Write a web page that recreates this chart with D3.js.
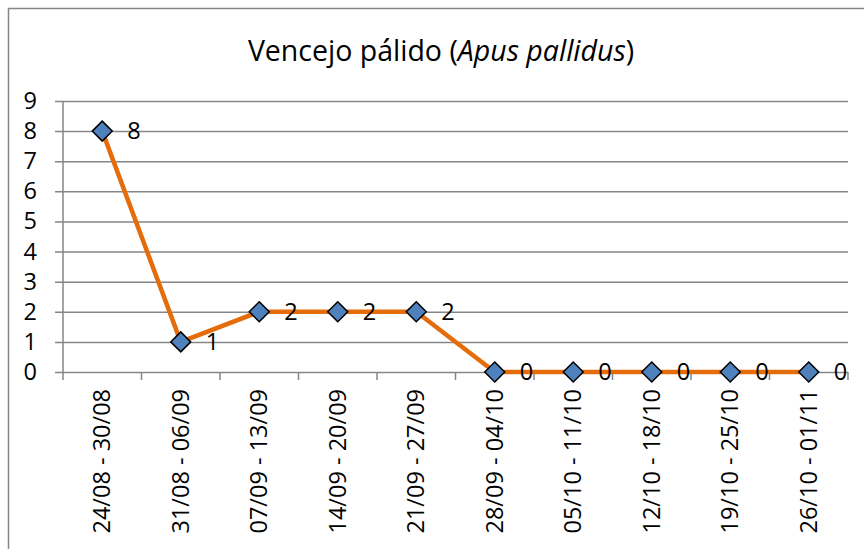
<!DOCTYPE html>
<html><head><meta charset="utf-8">
<script src="https://cdn.jsdelivr.net/npm/d3@7"></script>
<style>
body{margin:0;background:#fff;}
svg{display:block;font-family:"Open Sans",sans-serif;}
</style></head>
<body>
<svg id="c" width="864" height="549"></svg>
<script>
const categories = ["24/08 - 30/08","31/08 - 06/09","07/09 - 13/09","14/09 - 20/09","21/09 - 27/09","28/09 - 04/10","05/10 - 11/10","12/10 - 18/10","19/10 - 25/10","26/10 - 01/11"];
const values = [8,1,2,2,2,0,0,0,0,0];
const yTicks = [0,1,2,3,4,5,6,7,8,9];

const svg = d3.select("#c");
const L = 63, R = 848, T = 101, B = 372;
const gray = "#868686";
const fs = 23.5;

// outer border
svg.append("rect").attr("x",8.5).attr("y",8.5).attr("width",870).attr("height",560)
  .attr("fill","none").attr("stroke",gray).attr("stroke-width",1.5);

// title
const title = svg.append("text").attr("x",441).attr("y",61).attr("text-anchor","middle")
  .attr("font-size",28.5).attr("fill","#000");
title.append("tspan").text("Vencejo pálido (");
title.append("tspan").attr("font-style","italic").text("Apus pallidus");
title.append("tspan").text(")");

const x = d3.scaleBand().domain(categories).range([L,R]).paddingInner(0).paddingOuter(0);
const y = d3.scaleLinear().domain([0,9]).range([B,T]);

// gridlines + y ticks
const yAxis = d3.axisLeft(y).tickValues(yTicks).tickSize(R-L+8).tickSizeOuter(0).tickPadding(18);
const gy = svg.append("g").attr("transform",`translate(${R},0)`).call(yAxis);
gy.select(".domain").remove();
gy.selectAll(".tick line").attr("stroke",gray).attr("stroke-width",1.5);
gy.selectAll(".tick text").attr("font-size",fs).attr("fill","#000").attr("font-family","Open Sans");

// y axis line
svg.append("line").attr("x1",L).attr("x2",L).attr("y1",T).attr("y2",B).attr("stroke",gray).attr("stroke-width",1.5);

// x axis ticks at boundaries
const bounds = categories.map(c=>x(c)).concat([R]);
svg.append("g").selectAll("line").data(bounds).join("line")
  .attr("x1",d=>d).attr("x2",d=>d).attr("y1",B).attr("y2",B+8)
  .attr("stroke",gray).attr("stroke-width",1.5);

// x labels
svg.append("g").selectAll("text").data(categories).join("text")
  .attr("transform",d=>`translate(${x(d)+x.bandwidth()/2+8},${389}) rotate(-90)`)
  .attr("text-anchor","end").attr("font-size",fs).attr("fill","#000").text(d=>d);

// line
const cx = (d,i)=>x(categories[i])+x.bandwidth()/2;
const line = d3.line().x((d,i)=>cx(d,i)).y(d=>y(d));
svg.append("path").datum(values).attr("d",line).attr("fill","none")
  .attr("stroke","#E46C0A").attr("stroke-width",4.5).attr("stroke-linejoin","round");

// markers
const s = 10;
svg.append("g").selectAll("path").data(values).join("path")
  .attr("d",(d,i)=>{const X=cx(d,i),Y=y(d);return `M${X},${Y-s}L${X+s},${Y}L${X},${Y+s}L${X-s},${Y}Z`;})
  .attr("fill","#4F81BD").attr("stroke","#000").attr("stroke-width",1.5);

// data labels
svg.append("g").selectAll("text").data(values).join("text")
  .attr("x",(d,i)=>cx(d,i)+25).attr("y",d=>y(d)+8)
  .attr("font-size",fs).attr("fill","#000").text(d=>d);
</script>
</body></html>
